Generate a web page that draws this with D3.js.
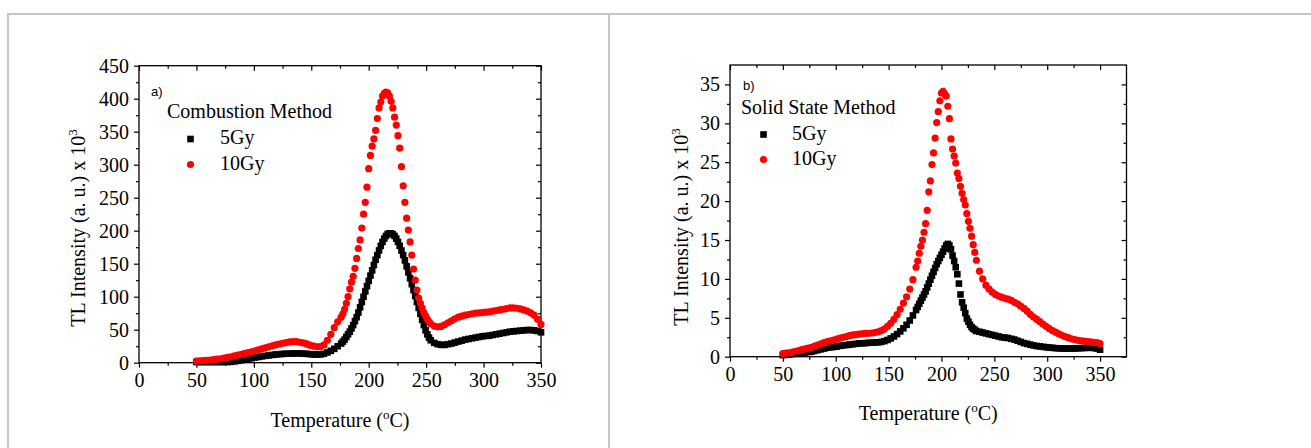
<!DOCTYPE html>
<html>
<head>
<meta charset="utf-8">
<script src="https://cdn.jsdelivr.net/npm/d3@7"></script>
<style>
body { margin: 0; background: #fff; }
svg text { font-family: "Liberation Serif", "Times New Roman", serif; fill: #000; }
</style>
</head>
<body>
<svg id="fig" width="1311" height="448"></svg>
<script>
// ---- panel a) combustion method ----
var tempsA = [50,53,56,59,62,65,68,71,74,77,80,83,86,89,92,95,98,101,104,107,110,113,116,119,122,125,128,131,134,137,140,143,146,149,152,155,158,161,164,167,170,173,176,
    177.5,179,180.5,182,183.5,185,186.5,188,189.5,191,192.5,194,195.5,197,198.5,200,201.5,203,204.5,206,207.5,209,210.5,212,213.5,215,216.5,218,219.5,221,222.5,224,225.5,227,228.5,230,231.5,233,234.5,236,237.5,239,240.5,242,243.5,245,
    246.5,248,249.5,251,252.5,254,257,260,263,266,269,272,275,278,281,284,287,290,293,296,299,302,305,308,311,314,317,320,323,326,329,332,335,338,341,344,347,350];
var comb5Gy = [1,1,1,1,1,1,1,1,1,1.1,1.3,2,2.8,3.7,4.7,5.7,6.8,7.8,8.7,9.6,10.4,11.1,11.8,12.4,12.9,13.3,13.6,13.8,14,14,14,13.8,13.4,13,12.5,12.3,12.5,13.5,15.5,18,21,25,29,
    32,35,39,43,47,52,57,63,69,76,84,92,100,108,116,124,132,140,148,156,163,170,177,183,188,192,195,196,196,194.5,192,188,183,177,170,163,155,146,137,128,119,110,101,92,83,74,
    65,57,49,43,38,34,30,28,27,27,28,29,30.5,32,33.5,35,36,37,38,39,40,40.5,41,42,43,44,45,46,47,47.5,48,48.5,49,49.5,49.5,49,48,46];
var comb10Gy = [2.5,2.8,3,3.4,4,4.6,5.3,6,7,8,9,10.2,11.5,12.7,14,15.3,16.5,18,19.5,21,22.5,24,25.5,27,28.3,29.5,30.5,31.5,32,31.8,31,30,28.5,26.5,25,24,24.5,27,34,43,53,62,69,
    74,81,90,100,112,122,131,143,158,173,186,204,225,243,266,294,314,328,339,352,370,386,395,404,408,410,409,404,396,386,372,360,344,325,297,268,243,219,201,183,163,142,125,110,98,90,
    83,76,71,66,62,59,55.5,54.5,55,57.5,60.5,63.5,66.5,69,70.5,72,73,74,75,75.5,76,76.5,77,78,79,80,81,82,83,83,82.5,81.5,80,78,75.5,72,66,58];

// ---- panel b) solid state method ----
var tempsB = [50,53,56,59,62,65,68,71,74,77,80,83,86,89,92,95,98,101,104,107,110,113,116,119,122,125,128,131,134,137,140,143,146,149,152,155,158,161,164,167,170,173,176,
    177.5,179,180.5,182,183.5,185,186.5,188,189.5,191,192.5,194,195.5,197,198.5,200,201.5,203,204.5,206,207.5,209,210.5,212,213.5,215,216.5,218,219.5,221,222.5,224,225.5,227,228.5,230,231.5,233,
    236,239,242,245,248,251,254,257,260,263,266,269,272,275,278,281,284,287,290,293,296,299,302,305,308,311,314,317,320,323,326,329,332,335,338,341,344,347,350];
var solid5Gy = [0.2,0.25,0.3,0.35,0.4,0.45,0.5,0.55,0.6,0.65,0.75,0.85,0.95,1.05,1.15,1.2,1.25,1.3,1.4,1.45,1.5,1.55,1.6,1.65,1.7,1.72,1.75,1.78,1.8,1.82,1.85,1.9,2,2.15,2.35,2.6,2.9,3.25,3.65,4.1,4.65,5.3,6,
    6.4,6.8,7.2,7.6,8,8.4,8.9,9.4,9.9,10.4,10.9,11.4,11.9,12.3,12.7,13.1,13.5,13.9,14.3,14.5,14.3,13.8,13,12.3,11.5,10.6,9.4,8,7,6.3,5.6,4.9,4.5,4.1,3.8,3.6,3.45,3.3,
    3.2,3.1,3,2.9,2.8,2.7,2.6,2.5,2.45,2.4,2.3,2.2,2.05,1.9,1.75,1.65,1.55,1.45,1.38,1.32,1.27,1.22,1.18,1.14,1.1,1.08,1.06,1.05,1.05,1.05,1.06,1.08,1.1,1.12,1.14,1.15,1.12,1.05,0.9];
var solid10Gy = [0.4,0.45,0.5,0.6,0.7,0.8,0.9,1,1.1,1.2,1.35,1.5,1.65,1.8,1.95,2.05,2.15,2.25,2.4,2.5,2.6,2.7,2.8,2.85,2.9,2.95,3,3,3.05,3.1,3.2,3.35,3.55,3.9,4.3,4.8,5.4,6.1,6.9,7.7,8.7,9.9,11.5,
    12.3,13.3,14.2,15,16,17.1,18.8,21.2,22.6,24.7,26.2,28.1,30.1,31.5,32.9,33.9,34.1,33.8,33.5,32.2,30.6,28,26.7,25.8,24.9,23.6,22.9,21.9,21,20.2,19.5,18.4,17.4,16.5,15.5,14.4,13.4,12.4,
    11,10,9.2,8.7,8.3,8,7.8,7.65,7.5,7.4,7.25,7,6.8,6.5,6.2,5.85,5.45,5.1,4.8,4.5,4.2,3.9,3.6,3.35,3.15,2.95,2.75,2.6,2.45,2.3,2.2,2.1,2.05,2,1.95,1.9,1.85,1.8,1.7];

// ticks
var xMajor = [0,50,100,150,200,250,300,350];
var xMinorA = [25,75,125,175,225,275,325];
var xMinorB = [25,75,125,175,225,275,325];
var yMajorA = [0,50,100,150,200,250,300,350,400,450];
var yMinorA = [25,75,125,175,225,275,325,375,425];
var yMajorB = [0,5,10,15,20,25,30,35];
var yMinorB = [2.5,7.5,12.5,17.5,22.5,27.5,32.5];

var svg = d3.select("#fig");

// grey table frame around the two figures
var frame = svg.append("g").attr("stroke", "#c6c6c6").attr("stroke-width", 2);
frame.append("line").attr("x1", 7).attr("x2", 1311).attr("y1", 14).attr("y2", 14);
frame.append("line").attr("x1", 8).attr("x2", 8).attr("y1", 13).attr("y2", 448);
frame.append("line").attr("x1", 609).attr("x2", 609).attr("y1", 13).attr("y2", 448);

function drawPanel(p) {
    var x = d3.scaleLinear().domain(p.xDomain).range([p.left, p.right]);
    var y = d3.scaleLinear().domain(p.yDomain).range([p.bottom, p.top]);
    var g = svg.append("g");

    function ax(axis, tr, vals, size, labels) {
        var a = g.append("g").attr("transform", tr)
            .call(axis.tickValues(vals).tickSize(size).tickSizeOuter(0).tickPadding(p.pad)
                .tickFormat(labels ? d3.format("d") : ""));
        a.select(".domain").remove();
        a.selectAll("line").attr("stroke", "#000").attr("stroke-width", 1.2);
        a.selectAll("text").style("font-size", "20px");
        return a;
    }
    // bottom / left: outward ticks with labels
    ax(d3.axisBottom(x), "translate(0," + p.bottom + ")", xMajor, 5, true);
    ax(d3.axisBottom(x), "translate(0," + p.bottom + ")", p.xMinor, 3, false);
    ax(d3.axisLeft(y), "translate(" + p.left + ",0)", p.yMajor, 5, true);
    ax(d3.axisLeft(y), "translate(" + p.left + ",0)", p.yMinor, 3, false);
    // top / right: inward ticks, no labels
    ax(d3.axisBottom(x), "translate(0," + p.top + ")", xMajor, 5, false);
    ax(d3.axisBottom(x), "translate(0," + p.top + ")", p.xMinor, 3, false);
    ax(d3.axisLeft(y), "translate(" + p.right + ",0)", p.yMajor, 5, false);
    ax(d3.axisLeft(y), "translate(" + p.right + ",0)", p.yMinor, 3, false);

    g.append("rect")
        .attr("x", p.left).attr("y", p.top)
        .attr("width", p.right - p.left).attr("height", p.bottom - p.top)
        .attr("fill", "none").attr("stroke", "#000").attr("stroke-width", 1.3);

    // 5Gy squares first, 10Gy dots on top
    var s = 6.6;
    g.append("g").selectAll("rect").data(p.temps)
        .enter().append("rect")
        .attr("x", function (d) { return x(d) - s / 2; })
        .attr("y", function (d, i) { return y(p.s5[i]) - s / 2; })
        .attr("width", s).attr("height", s)
        .attr("fill", "#000");
    g.append("g").selectAll("circle").data(p.temps)
        .enter().append("circle")
        .attr("cx", function (d) { return x(d); })
        .attr("cy", function (d, i) { return y(p.s10[i]); })
        .attr("r", 3.6)
        .attr("fill", "#ff0000");

    // axis titles
    var xt = g.append("text")
        .attr("x", (p.left + p.right) / 2).attr("y", p.xTitleY)
        .attr("text-anchor", "middle").style("font-size", "20px");
    xt.append("tspan").text("Temperature (");
    xt.append("tspan").text("o").attr("dy", -8).style("font-size", "13px");
    xt.append("tspan").text("C)").attr("dy", 8);

    var yt = g.append("text")
        .attr("transform", "translate(" + p.yTitleX + "," + p.yTitleY + ") rotate(-90)")
        .attr("text-anchor", "middle").style("font-size", "20px");
    yt.append("tspan").text("TL Intensity (a. u.) x 10");
    yt.append("tspan").text("3").attr("dy", -8).style("font-size", "13px");

    // legend
    var L = p.legend;
    g.append("text").attr("x", L.tagX).attr("y", L.tagY)
        .style("font-family", "'Liberation Sans', Arial, sans-serif")
        .style("font-size", "13px").text(p.tag);
    g.append("text").attr("x", L.titleX).attr("y", L.titleY)
        .style("font-size", "20px").text(p.title);
    g.append("rect").attr("x", L.markX - s / 2).attr("y", L.row1 - 5 - s / 2)
        .attr("width", s).attr("height", s).attr("fill", "#000");
    g.append("circle").attr("cx", L.markX).attr("cy", L.row2 - 5.5).attr("r", 3.6).attr("fill", "#ff0000");
    g.append("text").attr("x", L.textX).attr("y", L.row1).style("font-size", "20px").text("5Gy");
    g.append("text").attr("x", L.textX).attr("y", L.row2).style("font-size", "20px").text("10Gy");
}

drawPanel({
    temps: tempsA, s5: comb5Gy, s10: comb10Gy,
    xDomain: [0, 350], yDomain: [0, 450],
    left: 139, right: 541, top: 65.7, bottom: 362.7, pad: 5,
    xMinor: xMinorA, yMajor: yMajorA, yMinor: yMinorA,
    xTitleY: 427, yTitleX: 85, yTitleY: 228,
    tag: "a)", title: "Combustion Method",
    legend: {tagX: 151, tagY: 96, titleX: 167, titleY: 118, markX: 190.5, textX: 220, row1: 144, row2: 170}
});

drawPanel({
    temps: tempsB, s5: solid5Gy, s10: solid10Gy,
    xDomain: [0, 375], yDomain: [0, 37.5],
    left: 730, right: 1126.5, top: 65, bottom: 356.7, pad: 5,
    xMinor: xMinorB, yMajor: yMajorB, yMinor: yMinorB,
    xTitleY: 420, yTitleX: 688, yTitleY: 227,
    tag: "b)", title: "Solid State Method",
    legend: {tagX: 743, tagY: 90, titleX: 741, titleY: 113.5, markX: 763.5, textX: 792, row1: 139.5, row2: 165}
});
</script>
</body>
</html>
